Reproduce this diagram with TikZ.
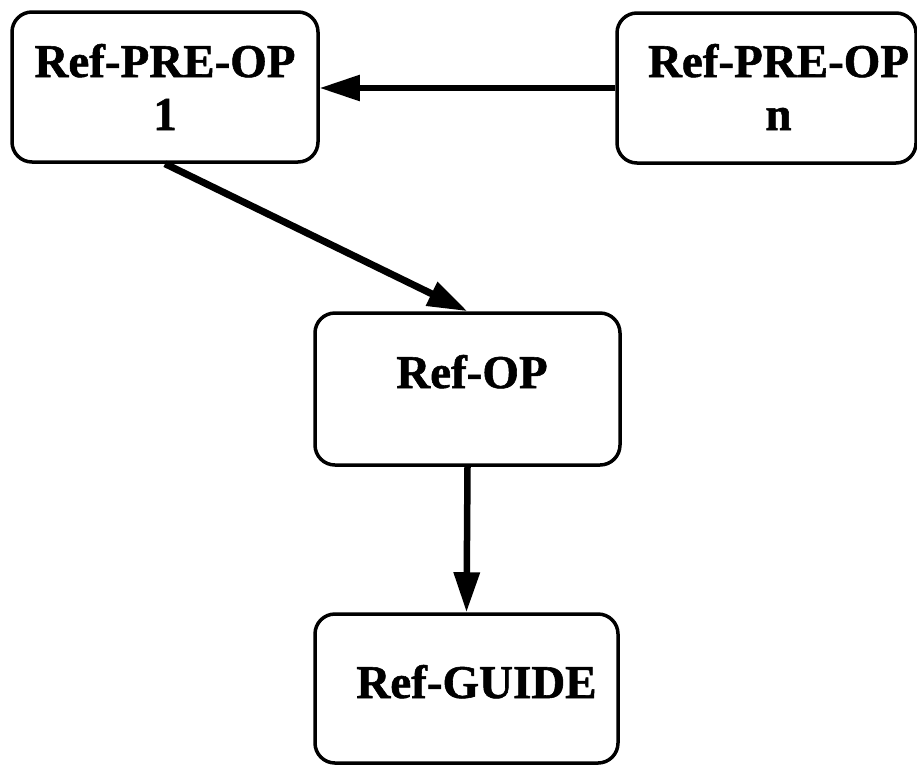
\documentclass[tikz,border=0pt]{standalone}
\usepackage{fontspec}
\setmainfont{Liberation Serif}[BoldFeatures={FakeBold=1.2}]
\usetikzlibrary{arrows.meta}
\newcommand{\placetext}[3]{\raisebox{#2}[0pt][0pt]{\makebox[0pt]{\hspace*{#1}#3}}}
\tikzset{
  refbox/.style={draw=black, line width=3.5pt, rounded corners=20pt, fill=white,
    inner sep=0pt, font=\fontsize{47}{53}\selectfont\bfseries},
  flow/.style={draw=black, line width=6.5pt, -{Triangle[length=40pt,width=25pt]}}
}
\begin{document}
\begin{tikzpicture}[x=1pt,y=-1pt]
\useasboundingbox (0,0) rectangle (917,764);
\node[refbox, minimum width=306pt, minimum height=150pt] (pre1) at (165,87)
  {\placetext{0pt}{10pt}{\begin{tabular}[t]{@{}c@{}}Ref-PRE-OP\\1\end{tabular}}};
\node[refbox, minimum width=299pt, minimum height=150pt] (pren) at (766.5,88)
  {\placetext{24pt}{11pt}{\begin{tabular}[t]{@{}c@{}}Ref-PRE-OP\\n\end{tabular}}};
\node[refbox, minimum width=305pt, minimum height=152pt] (op) at (467.5,389)
  {\placetext{9pt}{1pt}{Ref-OP}};
\node[refbox, minimum width=303pt, minimum height=149pt] (guide) at (466.5,688.5)
  {\placetext{20pt}{-9.5pt}{Ref-GUIDE}};
\draw[flow, line width=5.5pt] (pren.west) -- (pren.west -| pre1.east);
\draw[flow, line width=7pt] (pre1.south) -- (op.north);
\draw[flow] (op.south) -- (guide.north);
\end{tikzpicture}
\end{document}
